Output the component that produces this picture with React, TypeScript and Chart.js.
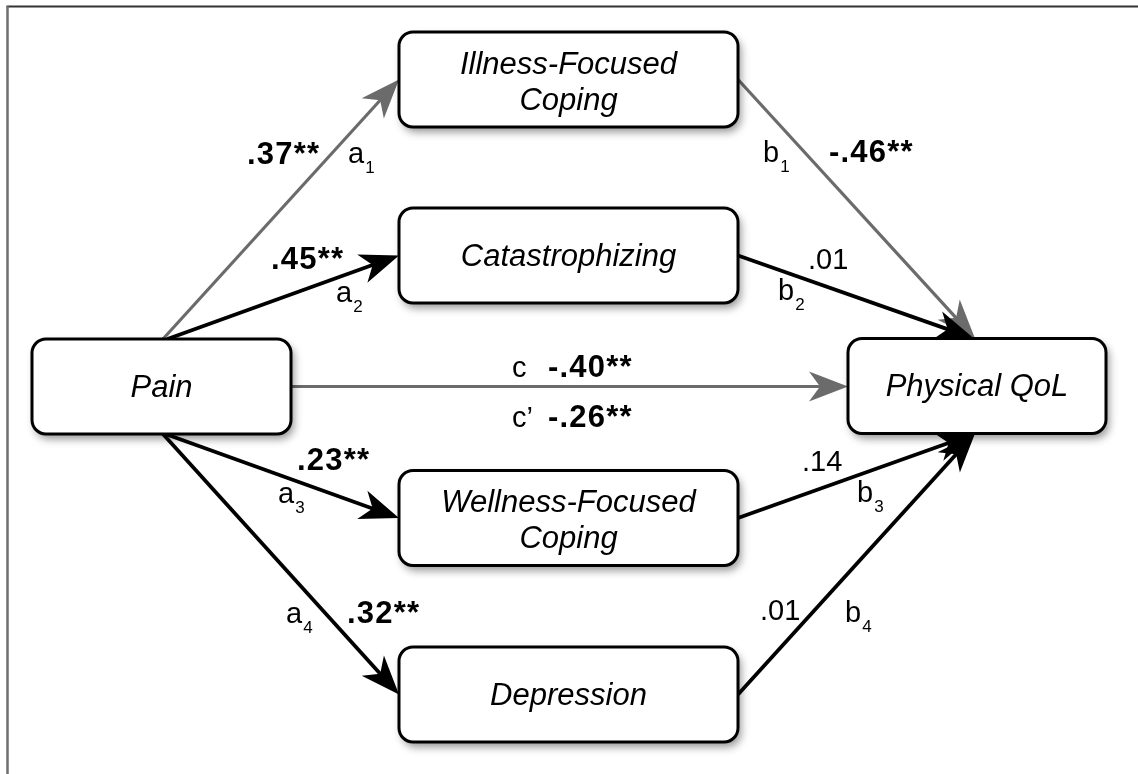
import React, { useEffect, useRef } from "react";
import { Chart, registerables } from "chart.js";

Chart.register(...registerables);

// ---------------- data ----------------
const nodeNames = [
  "Pain",
  "Illness-Focused\nCoping",
  "Catastrophizing",
  "Wellness-Focused\nCoping",
  "Depression",
  "Physical QoL",
];
// node centres in diagram units
const nodeX = [161.5, 568.5, 568.5, 568.5, 568.5, 977];
const nodeY = [386.5, 79.5, 255.5, 518, 694.5, 386];

const pathNames = ["a1", "a2", "a3", "a4", "b1", "b2", "b3", "b4", "c"];
const pathFrom = [0, 0, 0, 0, 1, 2, 3, 4, 0];
const pathTo = [1, 2, 3, 4, 5, 5, 5, 5, 5];
const pathCoefficients = [".37**", ".45**", ".23**", ".32**", "-.46**", ".01", ".14", ".01", "-.40**"];
const directEffectName = "c\u2019";
const directEffectCoefficient = "-.26**";
const grayPaths = ["a1", "b1", "c"];

// ---------------- layout ----------------
const W = 1138;
const H = 774;
const nodeW = [259, 339, 339, 339, 339, 258];
const nodeH = 95;
const startSide = ["top", "top", "bottom", "bottom", "right", "right", "right", "right", "right"];
const endSide = ["left", "left", "left", "left", "top", "top", "bottom", "bottom", "left"];
const startShift = [1.5, 6, 4, 1.5, 0, 0, 0, 0, 0];
const endShift = [0, 0, 0, 0, -2, -3, -2, -2, 0.5];
const coefPos = [
  [247, 164], [271, 269], [297, 470], [347, 623],
  [829, 162], [808, 269], [802, 471], [760, 620], [548, 377],
];
const namePos = [
  [348, 163], [336, 302], [278, 503], [286, 623],
  [763, 162], [778, 300], [857, 502], [845, 622], [512, 377],
];
const directCoefPos = [548, 427];
const directNamePos = [512, 427];

const GRAY = "#6b6b6b";
const BLACK = "#000000";
const FONT = '"Liberation Sans", Arial, Helvetica, sans-serif';
const HEAD_LEN = 39;
const HEAD_HALF = 15;
const HEAD_NOTCH = 28;

function port(i: number, side: string, shift: number): [number, number] {
  const cx = nodeX[i];
  const cy = nodeY[i];
  const hw = nodeW[i] / 2;
  const hh = nodeH / 2;
  if (side === "top") return [cx + shift, cy - hh];
  if (side === "bottom") return [cx + shift, cy + hh];
  if (side === "left") return [cx - hw, cy + shift];
  return [cx + hw, cy + shift];
}

function pathEnds(k: number) {
  const s = port(pathFrom[k], startSide[k], startShift[k]);
  const e = port(pathTo[k], endSide[k], endShift[k]);
  return { s, e };
}

function buildDatasets() {
  return pathNames.map((name, k) => {
    const { s, e } = pathEnds(k);
    const dx = e[0] - s[0];
    const dy = e[1] - s[1];
    const len = Math.hypot(dx, dy);
    const ux = dx / len;
    const uy = dy / len;
    const gray = grayPaths.includes(name);
    return {
      type: "line" as const,
      label: name,
      data: [
        { x: s[0], y: s[1] },
        { x: e[0] - ux * (HEAD_NOTCH - 2), y: e[1] - uy * (HEAD_NOTCH - 2) },
      ],
      borderColor: gray ? GRAY : BLACK,
      borderWidth: gray ? 3.2 : 3.8,
      pointRadius: 0,
      fill: false,
      clip: false as any,
      tension: 0,
      borderCapStyle: "butt" as const,
    };
  });
}

function roundRect(ctx: CanvasRenderingContext2D, x: number, y: number, w: number, h: number, r: number) {
  ctx.beginPath();
  ctx.moveTo(x + r, y);
  ctx.lineTo(x + w - r, y);
  ctx.arcTo(x + w, y, x + w, y + r, r);
  ctx.lineTo(x + w, y + h - r);
  ctx.arcTo(x + w, y + h, x + w - r, y + h, r);
  ctx.lineTo(x + r, y + h);
  ctx.arcTo(x, y + h, x, y + h - r, r);
  ctx.lineTo(x, y + r);
  ctx.arcTo(x, y, x + r, y, r);
  ctx.closePath();
}

function drawName(ctx: CanvasRenderingContext2D, name: string, x: number, y: number) {
  const m = name.match(/^([a-z])(\d)$/);
  ctx.textAlign = "left";
  ctx.textBaseline = "alphabetic";
  ctx.fillStyle = "#000";
  (ctx as any).letterSpacing = "0px";
  if (m) {
    ctx.font = `29px ${FONT}`;
    ctx.fillText(m[1], x, y);
    const w = ctx.measureText(m[1]).width;
    ctx.font = `17px ${FONT}`;
    ctx.fillText(m[2], x + w + 1, y + 10);
  } else {
    ctx.font = `29px ${FONT}`;
    ctx.fillText(name, x, y);
  }
}

function drawCoef(ctx: CanvasRenderingContext2D, coef: string, x: number, y: number) {
  const bold = coef.endsWith("**");
  ctx.textAlign = "left";
  ctx.textBaseline = "alphabetic";
  ctx.fillStyle = "#000";
  if (bold) {
    ctx.font = `bold 31px ${FONT}`;
    (ctx as any).letterSpacing = "1.2px";
  } else {
    ctx.font = `29px ${FONT}`;
    (ctx as any).letterSpacing = "0px";
  }
  ctx.fillText(coef, x, y);
  (ctx as any).letterSpacing = "0px";
}

const diagramPlugin = {
  id: "diagram",
  beforeDraw(chart: any) {
    const ctx: CanvasRenderingContext2D = chart.ctx;
    ctx.save();
    ctx.fillStyle = "#fff";
    ctx.fillRect(0, 0, chart.width, chart.height);
    const xs = chart.scales.x;
    const ys = chart.scales.y;
    // frame
    ctx.strokeStyle = "#333";
    ctx.lineWidth = 2;
    ctx.beginPath();
    ctx.moveTo(xs.getPixelForValue(6.5), ys.getPixelForValue(6.5));
    ctx.lineTo(xs.getPixelForValue(W), ys.getPixelForValue(6.5));
    ctx.stroke();
    ctx.strokeStyle = "#6e6e6e";
    ctx.lineWidth = 2.5;
    ctx.beginPath();
    ctx.moveTo(xs.getPixelForValue(7.5), ys.getPixelForValue(6));
    ctx.lineTo(xs.getPixelForValue(7.5), ys.getPixelForValue(H));
    ctx.stroke();
    ctx.restore();
  },
  afterDatasetsDraw(chart: any) {
    const ctx: CanvasRenderingContext2D = chart.ctx;
    const xs = chart.scales.x;
    const ys = chart.scales.y;
    const px = (v: number) => xs.getPixelForValue(v);
    const py = (v: number) => ys.getPixelForValue(v);
    ctx.save();
    // arrowheads
    pathNames.forEach((name, k) => {
      const { s, e } = pathEnds(k);
      const sx = px(s[0]);
      const sy = py(s[1]);
      const ex = px(e[0]);
      const ey = py(e[1]);
      const len = Math.hypot(ex - sx, ey - sy);
      const ux = (ex - sx) / len;
      const uy = (ey - sy) / len;
      const nx = -uy;
      const ny = ux;
      ctx.fillStyle = grayPaths.includes(name) ? GRAY : BLACK;
      ctx.beginPath();
      ctx.moveTo(ex, ey);
      ctx.lineTo(ex - ux * HEAD_LEN + nx * HEAD_HALF, ey - uy * HEAD_LEN + ny * HEAD_HALF);
      ctx.lineTo(ex - ux * HEAD_NOTCH, ey - uy * HEAD_NOTCH);
      ctx.lineTo(ex - ux * HEAD_LEN - nx * HEAD_HALF, ey - uy * HEAD_LEN - ny * HEAD_HALF);
      ctx.closePath();
      ctx.fill();
    });
    // boxes
    nodeNames.forEach((label, i) => {
      const x0 = px(nodeX[i] - nodeW[i] / 2);
      const x1 = px(nodeX[i] + nodeW[i] / 2);
      const y0 = py(nodeY[i] - nodeH / 2);
      const y1 = py(nodeY[i] + nodeH / 2);
      ctx.save();
      ctx.shadowColor = "rgba(0,0,0,0.42)";
      ctx.shadowBlur = 8;
      ctx.shadowOffsetX = 3;
      ctx.shadowOffsetY = 5;
      roundRect(ctx, x0, y0, x1 - x0, y1 - y0, 14);
      ctx.fillStyle = "#fff";
      ctx.fill();
      ctx.restore();
      roundRect(ctx, x0, y0, x1 - x0, y1 - y0, 14);
      ctx.strokeStyle = "#000";
      ctx.lineWidth = 3;
      ctx.stroke();
      const lines = label.split("\n");
      ctx.fillStyle = "#000";
      ctx.font = `italic 31px ${FONT}`;
      ctx.textAlign = "center";
      ctx.textBaseline = "alphabetic";
      const cx = px(nodeX[i]);
      const cy = py(nodeY[i]);
      if (lines.length === 1) {
        ctx.fillText(lines[0], cx, cy + 10);
      } else {
        ctx.fillText(lines[0], cx, cy - 6);
        ctx.fillText(lines[1], cx, cy + 30);
      }
    });
    // path labels
    pathNames.forEach((name, k) => {
      drawCoef(ctx, pathCoefficients[k], px(coefPos[k][0]), py(coefPos[k][1]));
      drawName(ctx, name, px(namePos[k][0]), py(namePos[k][1]));
    });
    drawCoef(ctx, directEffectCoefficient, px(directCoefPos[0]), py(directCoefPos[1]));
    drawName(ctx, directEffectName, px(directNamePos[0]), py(directNamePos[1]));
    ctx.restore();
  },
};

export default function App() {
  const ref = useRef<HTMLCanvasElement | null>(null);
  useEffect(() => {
    if (!ref.current) return;
    const chart = new Chart(ref.current, {
      type: "line",
      data: { datasets: buildDatasets() as any },
      options: {
        animation: false,
        responsive: false,
        maintainAspectRatio: false,
        layout: { padding: 0 },
        parsing: false as any,
        scales: {
          x: { type: "linear", min: 0, max: W, display: false },
          y: { type: "linear", min: 0, max: H, reverse: true, display: false },
        },
        plugins: { legend: { display: false }, tooltip: { enabled: false }, title: { display: false } },
        events: [],
      },
      plugins: [diagramPlugin as any],
    });
    return () => chart.destroy();
  }, []);
  return (
    <div style={{ position: "absolute", left: 0, top: 0, width: W, height: H, background: "#fff" }}>
      <canvas ref={ref} width={W} height={H} style={{ display: "block", width: W, height: H }} />
    </div>
  );
}
